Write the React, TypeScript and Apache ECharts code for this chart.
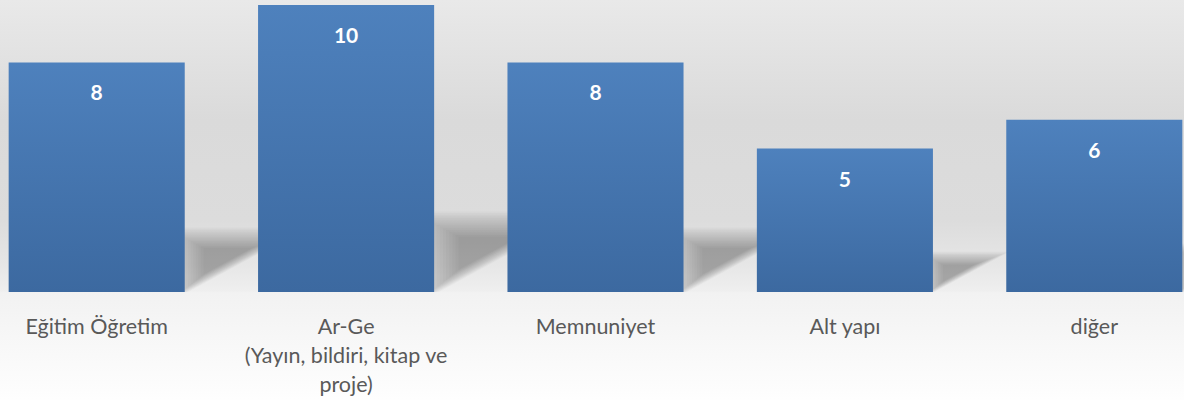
import React, { useEffect, useRef } from "react";
import * as echarts from "echarts";

const categories = [
  "Eğitim Öğretim",
  "Ar-Ge\n(Yayın, bildiri, kitap ve\nproje)",
  "Memnuniyet",
  "Alt yapı",
  "diğer",
];
const values = [8, 10, 8, 5, 6];

const FONT = "Lato, 'Open Sans', sans-serif";

export default function App() {
  const ref = useRef<HTMLDivElement>(null);
  useEffect(() => {
    if (!ref.current) return;
    const chart = echarts.init(ref.current, undefined, { renderer: "svg" });
    const barRatio = 0.706;
    chart.setOption({
      animation: false,
      backgroundColor: new echarts.graphic.LinearGradient(0, 0, 0, 1, [
        { offset: 0, color: "#e9e9e9" },
        { offset: 0.3, color: "#dadada" },
        { offset: 0.55, color: "#dcdcdc" },
        { offset: 0.66, color: "#e6e6e6" },
        { offset: 0.728, color: "#efefef" },
        { offset: 0.732, color: "#f2f2f2" },
        { offset: 1, color: "#fefefe" },
      ]),
      grid: { left: 0, right: 0, top: 5, bottom: 108 },
      xAxis: {
        type: "category",
        data: categories,
        axisLine: { show: false },
        axisTick: { show: false },
        axisLabel: {
          color: "#595959",
          fontSize: 21.5,
          fontFamily: FONT,
          lineHeight: 29,
          margin: 19,
          interval: 0,
        },
      },
      yAxis: { type: "value", min: 0, max: 10, show: false },
      series: [
        {
          type: "custom",
          z: 1,
          silent: true,
          clip: true,
          data: values.map((v, i) => [i, v]),
          renderItem: (params: any, api: any) => {
            const idx = api.value(0);
            const v = api.value(1);
            const base = api.coord([idx, 0]);
            const bw = api.size([1, 0])[0] * barRatio;
            const xR = base[0] + bw / 2;
            const y0 = base[1];
            const h = api.size([0, v * 0.25])[1];
            const pts = [
              [xR - 6, y0 - h],
              [xR - 6, y0 + 2],
              [xR + h * 1.8, y0 - h],
            ];
            const gx = (pts[0][0] + pts[1][0] + pts[2][0]) / 3;
            const gy = (pts[0][1] + pts[1][1] + pts[2][1]) / 3;
            const mx = (pts[1][0] + pts[2][0]) / 2;
            const my = (pts[1][1] + pts[2][1]) / 2;
            const cx = gx + (mx - gx) * 0.45;
            const cy = gy + (my - gy) * 0.45;
            const children: any[] = [];
            const layers = 16;
            for (let k = 0; k < layers; k++) {
              const s = 1.3 - (k * 0.85) / (layers - 1);
              children.push({
                type: "polygon",
                shape: {
                  points: pts.map((p) => [
                    cx + (p[0] - cx) * s,
                    cy + (p[1] - cy) * s,
                  ]),
                },
                style: { fill: "rgba(0,0,0,0.018)" },
              });
            }
            return { type: "group", children };
          },
        },
        {
          type: "bar",
          z: 2,
          data: values,
          barWidth: (barRatio * 100).toFixed(1) + "%",
          itemStyle: {
            color: new echarts.graphic.LinearGradient(0, 0, 0, 1, [
              { offset: 0, color: "#4e81bd" },
              { offset: 1, color: "#3c69a0" },
            ]),
          },
          label: {
            show: true,
            position: "insideTop",
            distance: 19,
            color: "#ffffff",
            fontWeight: "bold",
            fontSize: 21,
            fontFamily: FONT,
          },
        },
      ],
    });
    return () => chart.dispose();
  }, []);
  return (
    <div
      style={{
        position: "absolute",
        left: 0,
        top: 0,
        width: 1184,
        height: 400,
        overflow: "hidden",
      }}
    >
      <div
        ref={ref}
        style={{ position: "absolute", left: -28, top: 0, width: 1247, height: 400 }}
      />
    </div>
  );
}
